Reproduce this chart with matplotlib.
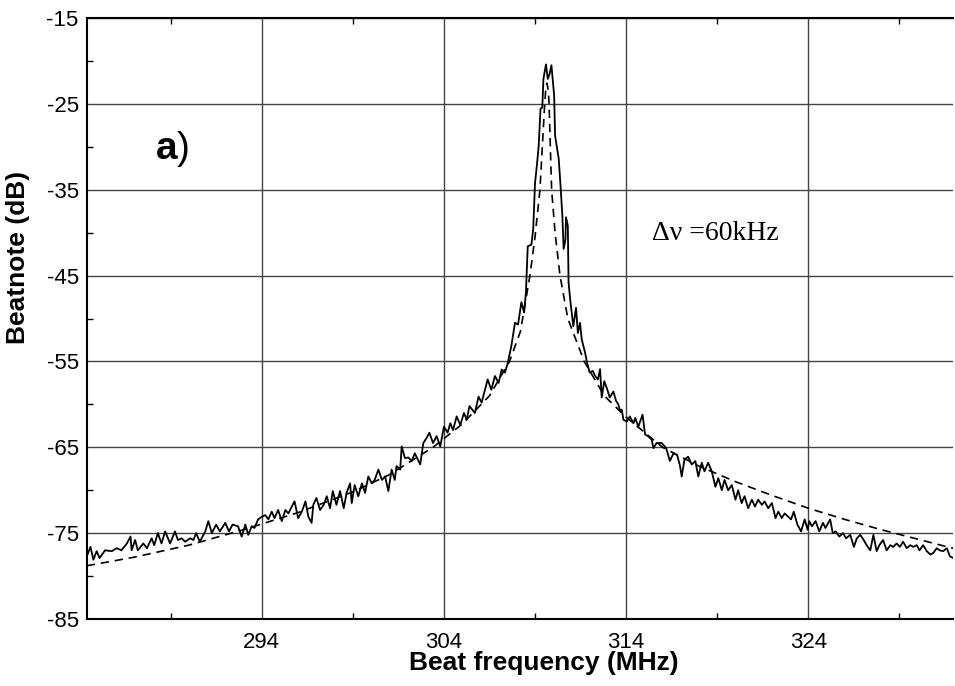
import matplotlib
matplotlib.use("Agg")
import matplotlib.pyplot as plt
from matplotlib.ticker import FixedLocator

plt.rcParams['font.family'] = ['Liberation Sans', 'DejaVu Sans']
plt.rcParams['axes.unicode_minus'] = False

freq = [
    284.4, 284.6, 284.76, 284.94, 285.1, 285.4, 285.77, 286.04, 286.3, 286.6,
    286.8, 286.86, 287.05, 287.2, 287.5, 287.7, 287.96, 288.1, 288.3, 288.5,
    288.7, 288.97, 289.24, 289.4, 289.6, 289.8, 290.07, 290.25, 290.4, 290.6,
    290.9, 291.07, 291.26, 291.5, 291.7, 292.0, 292.2, 292.4, 292.7, 292.9,
    293.1, 293.26, 293.45, 293.6, 293.8, 294.0, 294.2, 294.36, 294.55, 294.7,
    294.9, 295.1, 295.3, 295.46, 295.65, 295.8, 296.0, 296.2, 296.4, 296.56,
    296.74, 296.83, 297.0, 297.2, 297.4, 297.57, 297.75, 297.9, 298.1, 298.3,
    298.5, 298.66, 298.85, 298.94, 299.1, 299.3, 299.5, 299.67, 299.85, 300.04,
    300.2, 300.4, 300.6, 300.77, 300.95, 301.13, 301.3, 301.4, 301.6, 301.68,
    301.86, 302.05, 302.23, 302.4, 302.7, 302.87, 303.05, 303.2, 303.4, 303.6,
    303.8, 304.0, 304.2, 304.35, 304.5, 304.7, 304.9, 305.1, 305.25, 305.4,
    305.7, 305.9, 306.07, 306.25, 306.4, 306.6, 306.8, 307.0, 307.17, 307.35,
    307.5, 307.7, 307.9, 308.07, 308.25, 308.4, 308.5, 308.6, 308.8, 308.9,
    309.0, 309.1, 309.2, 309.3, 309.4, 309.46, 309.6, 309.7, 309.8, 309.9,
    309.97, 310.05, 310.1, 310.3, 310.4, 310.5, 310.57, 310.67, 310.7, 310.8,
    310.84, 310.93, 311.1, 311.25, 311.35, 311.47, 311.56, 311.75, 311.84, 312.0,
    312.17, 312.3, 312.45, 312.57, 312.66, 312.8, 312.97, 313.1, 313.3, 313.45,
    313.57, 313.67, 313.76, 313.85, 314.04, 314.2, 314.4, 314.5, 314.67, 314.9,
    315.04, 315.2, 315.4, 315.5, 315.67, 315.95, 316.2, 316.4, 316.6, 316.8,
    316.96, 317.05, 317.2, 317.4, 317.6, 317.8, 317.96, 318.15, 318.3, 318.5,
    318.7, 318.9, 319.06, 319.25, 319.4, 319.6, 319.8, 320.0, 320.15, 320.34,
    320.5, 320.7, 320.9, 321.07, 321.25, 321.45, 321.6, 321.8, 322.0, 322.2,
    322.35, 322.54, 322.7, 322.9, 323.05, 323.2, 323.4, 323.6, 323.8, 323.96,
    324.05, 324.2, 324.4, 324.6, 324.8, 324.94, 325.2, 325.34, 325.5, 325.7,
    325.9, 326.07, 326.3, 326.5, 326.66, 326.85, 327.04, 327.2, 327.4, 327.57,
    327.75, 327.9, 328.1, 328.3, 328.5, 328.66, 328.85, 329.03, 329.2, 329.4,
    329.6, 329.76, 329.95, 330.1, 330.3, 330.5, 330.7, 330.86, 331.05, 331.2,
    331.4, 331.6, 331.77, 331.95,
]
beat_db = [
    -77.7, -76.6, -78.1, -77.1, -77.9, -77.0, -77.1, -76.75, -77.0, -76.2,
    -75.4, -77.0, -75.8, -77.0, -76.2, -76.75, -75.6, -76.4, -75.0, -76.2,
    -74.8, -76.2, -74.8, -75.8, -75.6, -76.0, -75.6, -75.8, -75.0, -76.0,
    -74.8, -73.6, -75.0, -74.0, -74.8, -73.8, -74.8, -74.0, -74.2, -75.4,
    -74.0, -75.2, -74.2, -74.4, -73.4, -73.1, -72.9, -73.4, -72.5, -73.25,
    -72.3, -73.6, -72.3, -72.7, -71.9, -71.3, -73.25, -72.5, -71.3, -73.1,
    -73.8, -71.7, -70.9, -72.3, -71.7, -70.7, -72.1, -70.1, -71.7, -70.1,
    -72.1, -70.3, -69.2, -71.5, -69.4, -70.7, -69.2, -70.3, -68.4, -69.2,
    -68.8, -67.6, -68.8, -68.4, -70.1, -67.6, -68.8, -67.2, -67.6, -64.9,
    -66.25, -66.2, -66.6, -65.7, -67.0, -64.5, -63.9, -63.3, -64.5, -63.7,
    -64.9, -62.6, -63.3, -62.2, -63.0, -61.4, -62.4, -61.0, -61.8, -60.2,
    -61.0, -59.1, -59.8, -58.3, -57.1, -58.3, -56.7, -57.5, -55.95, -56.3,
    -55.2, -53.2, -50.5, -50.7, -48.1, -49.3, -47.0, -41.6, -41.4, -39.6,
    -34.2, -32.2, -29.9, -25.6, -25.4, -22.1, -20.4, -22.1, -21.5, -20.5,
    -22.1, -24.05, -28.7, -31.4, -34.55, -38.05, -41.9, -40.8, -38.2, -39.2,
    -45.8, -47.8, -50.9, -48.75, -51.7, -50.5, -52.4, -54.0, -55.0, -56.3,
    -56.1, -56.7, -57.1, -55.9, -59.2, -57.3, -58.3, -59.2, -58.5, -59.6,
    -60.0, -60.8, -60.6, -61.8, -62.0, -61.4, -62.2, -61.6, -62.6, -61.2,
    -63.5, -63.7, -64.1, -65.1, -64.5, -64.5, -65.1, -66.6, -65.7, -65.9,
    -67.2, -68.4, -66.45, -66.1, -67.0, -66.6, -68.4, -66.8, -67.8, -66.8,
    -67.8, -69.6, -68.6, -70.0, -68.8, -70.0, -69.4, -71.1, -70.0, -71.5,
    -70.7, -72.1, -71.1, -71.9, -71.1, -71.7, -71.3, -72.1, -71.5, -73.25,
    -72.5, -73.25, -72.7, -73.1, -73.4, -72.5, -74.0, -74.8, -73.4, -74.6,
    -73.6, -74.2, -73.6, -74.8, -73.8, -74.4, -73.4, -75.0, -74.8, -75.4,
    -75.0, -75.6, -75.2, -76.6, -75.6, -75.2, -75.8, -76.4, -77.0, -75.2,
    -77.1, -76.4, -75.8, -77.0, -76.4, -76.6, -76.2, -76.6, -76.0, -76.75,
    -76.4, -76.6, -76.4, -77.0, -76.4, -77.1, -77.5, -77.3, -76.75, -77.0,
    -77.1, -76.75, -77.7, -77.9,
]

# Lorentzian fit (dashed)
fit_freq = [
    284.4, 287.0, 290.0, 293.0, 296.0, 299.0, 301.0, 303.4, 305.0, 306.5,
    307.6, 308.2, 308.72, 309.0, 309.27, 309.4, 309.53, 309.6, 309.66, 309.73,
    309.77, 309.91, 310.1, 310.37, 310.8, 311.7, 312.8, 314.0, 316.0, 318.0,
    320.0, 322.0, 324.0, 326.0, 328.0, 330.0, 332.0,
]
fit_db = [
    -78.8, -77.8, -76.4, -74.6, -72.6, -70.2, -68.2, -65.0, -62.3, -59.0,
    -55.0, -51.5, -45.0, -40.5, -35.0, -30.0, -25.0, -23.0, -22.6, -23.5,
    -25.0, -35.0, -40.0, -45.0, -50.0, -55.0, -59.0, -61.5, -65.0, -67.2,
    -69.0, -70.6, -72.1, -73.4, -74.6, -75.7, -76.8,
]

x_ticks = [294, 304, 314, 324]
x_minor = [289, 299, 309, 319, 329]
y_ticks = [-85, -75, -65, -55, -45, -35, -25, -15]
y_minor = [-80, -70, -60, -50, -40, -30, -20]

fig = plt.figure(figsize=(9.55, 6.86), dpi=100)
ax = fig.add_axes([87 / 955, 1 - 619 / 686, 866 / 955, 601 / 686])

ax.plot(freq, beat_db, color='black', lw=1.3, zorder=3)
ax.plot(fit_freq, fit_db, color='black', lw=1.2, ls=(0, (5, 3.5)), zorder=3)

ax.set_xlim(284.41, 331.94)
ax.set_ylim(-85, -15)
ax.xaxis.set_major_locator(FixedLocator(x_ticks))
ax.xaxis.set_minor_locator(FixedLocator(x_minor))
ax.yaxis.set_major_locator(FixedLocator(y_ticks))
ax.yaxis.set_minor_locator(FixedLocator(y_minor))

ax.grid(True, which='major', color='#444444', lw=1.0, zorder=1)
ax.tick_params(which='major', length=0, labelsize=16)
ax.tick_params(axis='x', which='major', pad=9)
ax.tick_params(axis='y', which='major', pad=6)
ax.tick_params(which='minor', direction='in', length=4, width=1.0,
               top=True, bottom=True, left=True, right=False)
for side in ['left', 'bottom', 'top']:
    ax.spines[side].set_linewidth(1.5)
ax.spines['right'].set_visible(False)

ax.set_xlabel('Beat frequency (MHz)', fontsize=19, fontweight='bold')
ax.set_ylabel('Beatnote (dB)', fontsize=19, fontweight='bold')
ax.xaxis.set_label_coords(0.527, -0.053)
ax.yaxis.set_label_coords(-0.066, 0.602)

ax.text(289.35, -31.4, 'a', fontsize=28, fontweight='bold', ha='right', va='baseline')
ax.text(289.35, -31.4, ')', fontsize=28, ha='left', va='baseline')
ax.text(315.4, -40.1, '\u0394\u03bd =60kHz', fontsize=20, ha='left', va='center',
        family=['Liberation Serif', 'DejaVu Serif'])

fig.savefig('out.png', dpi=100)
